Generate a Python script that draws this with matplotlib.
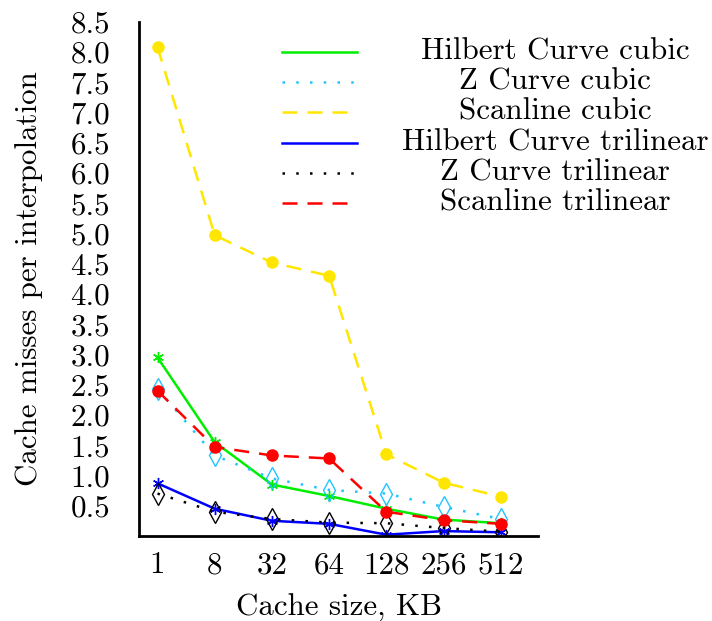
import matplotlib
matplotlib.use("Agg")
import matplotlib.pyplot as plt

plt.rcParams['font.family'] = ['cmr10', 'DejaVu Serif']
plt.rcParams['mathtext.fontset'] = 'cm'
plt.rcParams['axes.formatter.use_mathtext'] = True

cache_sizes = ['1', '8', '32', '64', '128', '256', '512']
hilbert_cubic = [2.95, 1.55, 0.85, 0.66, 0.45, 0.27, 0.21]
z_cubic = [2.43, 1.33, 0.95, 0.76, 0.70, 0.48, 0.28]
scan_cubic = [8.08, 4.97, 4.52, 4.30, 1.35, 0.88, 0.65]
hilbert_tri = [0.87, 0.45, 0.25, 0.20, 0.02, 0.08, 0.06]
z_tri = [0.70, 0.40, 0.28, 0.22, 0.21, 0.13, 0.07]
scan_tri = [2.40, 1.47, 1.33, 1.28, 0.40, 0.26, 0.20]
yticks = [0.5, 1.0, 1.5, 2.0, 2.5, 3.0, 3.5, 4.0, 4.5, 5.0, 5.5, 6.0, 6.5, 7.0, 7.5, 8.0, 8.5]

names = ['Hilbert Curve cubic', 'Z Curve cubic', 'Scanline cubic',
         'Hilbert Curve trilinear', 'Z Curve trilinear', 'Scanline trilinear']
series = [hilbert_cubic, z_cubic, scan_cubic, hilbert_tri, z_tri, scan_tri]
colors = ['#00ee00', '#22c4ff', '#ffe600', '#0000ff', '#000000', '#ff0000']
styles = ['-', (0, (1, 4.5)), (0, (6, 4)), '-', (0, (1, 4.5)), (0, (6, 4))]
markers = [(6, 2, 0), 'd', 'o', (6, 2, 0), 'd', 'o']

fs = 22.3
fig = plt.figure(figsize=(7.12, 6.21), dpi=100)
ax = fig.add_axes([0.1955, 0.137, 0.56, 0.828])
x = list(range(len(cache_sizes)))

for s, c, ls, m in zip(series, colors, styles, markers):
    hollow = m == 'd'
    ax.plot(x, s, color=c, linestyle=ls, linewidth=1.8, marker=m,
            markersize=11 if hollow else 8,
            markerfacecolor='none' if hollow else c,
            markeredgecolor=c, markeredgewidth=1.0)

ax.set_xlim(-0.32, 6.65)
ax.set_ylim(0, 8.5)
ax.set_xticks(x)
ax.set_xticklabels(cache_sizes)
ax.set_yticks(yticks)
ax.set_yticklabels(['%.1f' % v for v in yticks])
ax.tick_params(axis='both', direction='in', length=0, labelsize=fs)
ax.tick_params(axis='y', pad=21)
ax.tick_params(axis='x', pad=11)
ax.spines['top'].set_visible(False)
ax.spines['right'].set_visible(False)
ax.spines['left'].set_linewidth(2)
ax.spines['bottom'].set_linewidth(2)
ax.set_xlabel('Cache size, KB', fontsize=fs, labelpad=11)
ax.set_ylabel('Cache misses per interpolation', fontsize=fs, labelpad=20)

# legend drawn by hand: line samples on the left, centred labels on the right
row_y = [52, 82, 112, 143, 173, 203]
for name, c, ls, yy in zip(names, colors, styles, row_y):
    fy = 1 - yy / 621
    fig.add_artist(plt.Line2D([282 / 712, 357 / 712], [fy, fy], color=c,
                              linestyle=ls, linewidth=1.8))
    fig.text(555 / 712, fy, name, ha='center', va='center', fontsize=fs)

fig.savefig('out.png', dpi=100)
